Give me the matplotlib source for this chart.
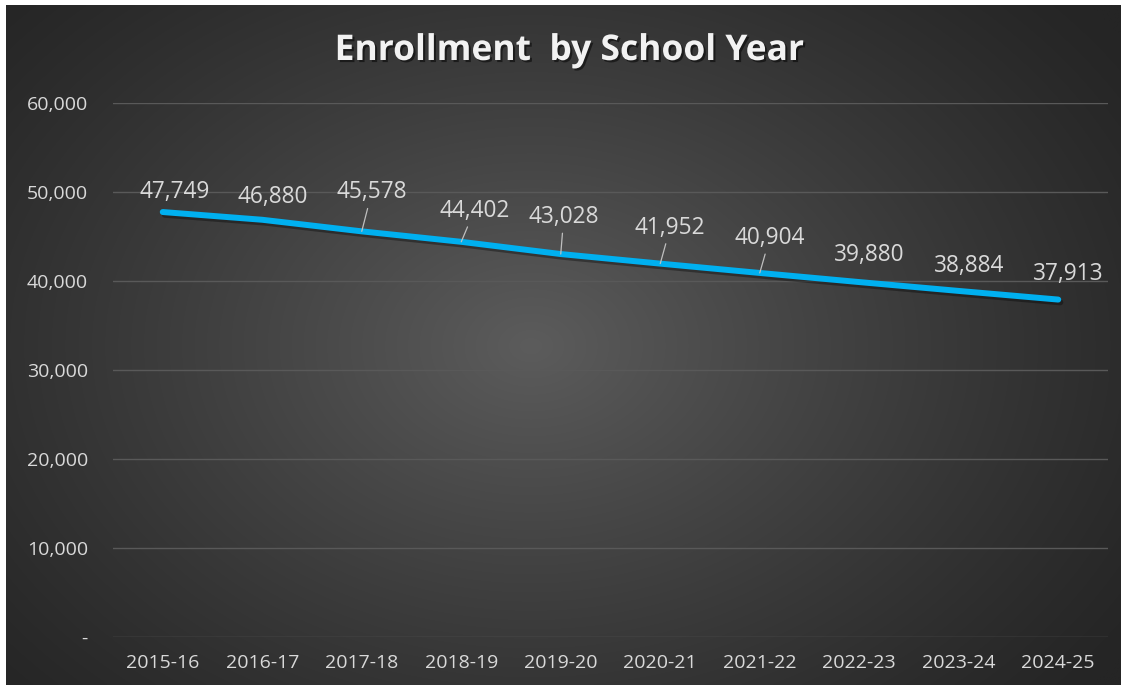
import numpy as np
import matplotlib
matplotlib.use("Agg")
import matplotlib.pyplot as plt
import matplotlib.patheffects as pe

# ---- data ----
years = ["2015-16", "2016-17", "2017-18", "2018-19", "2019-20",
         "2020-21", "2021-22", "2022-23", "2023-24", "2024-25"]
enrollment = [47749, 46880, 45578, 44402, 43028, 41952, 40904, 39880, 38884, 37913]
y_ticks = [0, 10000, 20000, 30000, 40000, 50000, 60000]
y_tick_labels = ["-", "10,000", "20,000", "30,000", "40,000", "50,000", "60,000"]
title = "Enrollment  by School Year"

# label offsets (pixels) from each point, and which have leader lines
label_offsets = [(12, 20), (10, 23), (10, 39), (13, 31), (3, 37),
                 (10, 36), (10, 35), (10, 27), (10, 25), (10, 26)]
leader = [False, False, True, True, True, True, True, False, False, False]

W, H = 1127, 690
fig = plt.figure(figsize=(W / 100, H / 100), dpi=100)
fig.patch.set_facecolor("white")

# background radial gradient panel
bx0, by0, bx1, by1 = 6, 5, 1121, 685  # pixel coords (top-left origin)
bg = fig.add_axes([bx0 / W, 1 - by1 / H, (bx1 - bx0) / W, (by1 - by0) / H], zorder=0)
hh, ww = 300, 500
yy, xx = np.mgrid[0:hh, 0:ww]
cx, cy = 0.47 * ww, 0.50 * hh
r = np.sqrt(((xx - cx) / (0.65 * ww)) ** 2 + ((yy - cy) / (0.78 * hh)) ** 2)
r = np.clip(r, 0, 1)
c_center, c_edge = 0x5c / 255, 0x25 / 255
v = c_edge + (c_center - c_edge) * (1 - r) ** 1.2
img = np.dstack([v, v, v])
bg.imshow(img, aspect="auto", interpolation="bilinear", extent=[0, 1, 0, 1])
bg.set_axis_off()

ax = fig.add_axes([113 / W, 53 / H, (1108 - 113) / W, (637 - 103) / H], zorder=1)
ax.patch.set_alpha(0)
x = np.arange(len(years))
ax.set_xlim(-0.5, len(years) - 0.5)
ax.set_ylim(0, 60000)

for s in ax.spines.values():
    s.set_visible(False)
ax.set_yticks(y_ticks)
ax.set_yticklabels(y_tick_labels)
ax.set_xticks(x)
ax.set_xticklabels(years)
ax.tick_params(axis="both", length=0, colors="#d9d9d9", labelsize=14)
ax.tick_params(axis="y", pad=18)
ax.tick_params(axis="x", pad=12)
for lab in ax.get_xticklabels() + ax.get_yticklabels():
    lab.set_fontfamily("Open Sans")
ax.grid(axis="y", color="#595959", lw=1.0)
ax.set_axisbelow(True)

line, = ax.plot(x, enrollment, color="#00B0F0", lw=4.3, solid_capstyle="round",
                solid_joinstyle="round", zorder=3,
                path_effects=[pe.SimpleLineShadow(offset=(1.5, -2), shadow_color="black", alpha=0.35),
                              pe.Normal()])

for i, (xi, yi) in enumerate(zip(x, enrollment)):
    dx, dy = label_offsets[i]
    ap = None
    if leader[i]:
        ap = dict(arrowstyle="-", color="#bfbfbf", lw=0.9, shrinkA=1, shrinkB=0)
    ax.annotate(f"{yi:,}", xy=(xi, yi), xytext=(dx, dy), textcoords="offset pixels",
                ha="center", va="center", fontsize=16.3, color="#d9d9d9",
                family="Open Sans", arrowprops=ap, zorder=4)

fig.text(569 / W, 1 - 51 / H, title, ha="center", va="center", fontsize=25.5,
         fontweight="bold", color="#f2f2f2", family="Open Sans",
         path_effects=[pe.withSimplePatchShadow(offset=(1.5, -1.5), shadow_rgbFace="black", alpha=0.5)])

fig.savefig("out.png", dpi=100, facecolor=fig.get_facecolor())
